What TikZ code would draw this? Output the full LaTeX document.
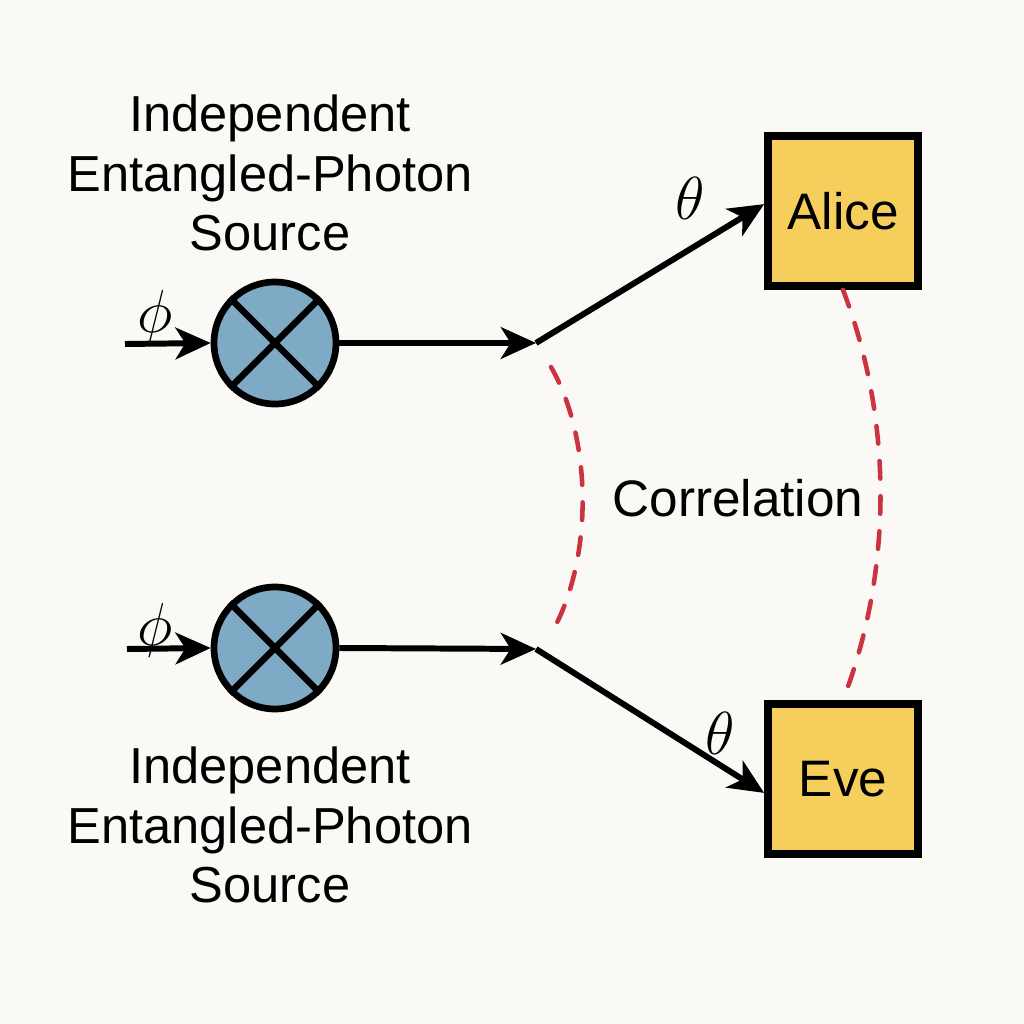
\documentclass[tikz,border=0pt]{standalone}
\usepackage{fontspec}
\setmainfont{Liberation Sans}
\usetikzlibrary{arrows.meta}
\definecolor{bgcol}{HTML}{FAF9F6}
\definecolor{srcblue}{HTML}{7FAAC6}
\definecolor{boxyellow}{HTML}{F5CE5C}
\definecolor{corred}{HTML}{CC3340}
\tikzset{
  source/.style={circle,draw,line width=1.9pt,fill=srcblue,minimum size=1.22cm,inner sep=0pt},
  party/.style={rectangle,draw,line width=2.2pt,fill=boxyellow,minimum size=1.5cm,
    font=\fontsize{14.6pt}{17pt}\selectfont},
  beam/.style={line width=1.7pt,-{Stealth[length=10pt,width=9pt,inset=2.8pt]}},
  corr/.style={corred,line width=1.3pt,dash pattern=on 5pt off 5pt,line cap=round},
  caption/.style={align=center,font=\fontsize{14.4pt}{17pt}\selectfont}
}
\begin{document}
\begin{tikzpicture}
\fill[bgcol] (0,0) rectangle (10.24,10.24);
% sources
\node[source] (src1) at (2.75,6.81) {};
\node[source] (src2) at (2.75,3.76) {};
\foreach \s in {src1,src2}{
   \draw[line width=1.9pt] (\s.north west) -- (\s.south east);
   \draw[line width=1.9pt] (\s.north east) -- (\s.south west);
}
\node[caption] (lab1) at (2.70,8.51) {Independent\\Entangled-Photon\\Source};
\node[caption] (lab2) at (2.70,1.99) {Independent\\Entangled-Photon\\Source};
% parties
\node[party] (alice) at (8.43,8.13) {Alice};
\node[party] (eve) at (8.43,2.45) {Eve};
% beams
\coordinate (in1) at (1.25,6.80);
\coordinate (in2) at (1.27,3.75);
\coordinate (j1) at (5.36,6.81);
\coordinate (j2) at (5.36,3.75);
\draw[beam] (in1) -- (src1.west);
\draw[beam] (in2) -- (src2.west);
\draw[beam] (src1.east) -- (j1);
\draw[beam] (src2.east) -- (j2);
\draw[beam] (j1) -- (alice.175);
\draw[beam] (j2) -- (eve.190);
\node at (1.55,7.07) {\fontsize{17pt}{18pt}\selectfont$\phi$};
\node at (1.55,3.94) {\fontsize{17pt}{18pt}\selectfont$\phi$};
\node at (6.90,8.26) {\fontsize{17pt}{18pt}\selectfont$\theta$};
\node at (7.20,2.91) {\fontsize{17pt}{18pt}\selectfont$\theta$};
% correlation
\coordinate (c1) at (5.51,6.57);
\coordinate (c2) at (5.52,3.92);
\draw[corr] (c1) .. controls (5.93,5.84) and (5.93,4.64) .. (c2);
\draw[corr] (alice.south) .. controls (8.93,6.04) and (8.93,4.54) .. (eve.north);
\node[font=\fontsize{14.6pt}{17pt}\selectfont] (corrlab) at (7.38,5.26) {Correlation};
\end{tikzpicture}
\end{document}
